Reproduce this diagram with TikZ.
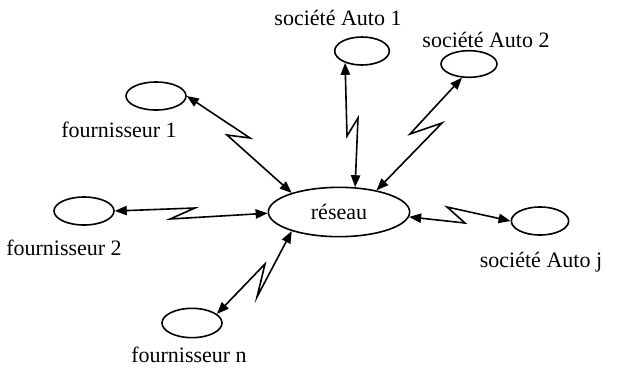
\documentclass[tikz,border=0pt]{standalone}
\usepackage{fontspec}
\setmainfont{Liberation Serif}
\usetikzlibrary{shapes.geometric,arrows.meta}

\begin{document}
\begin{tikzpicture}[x=0.75pt,y=-0.75pt,
  site/.style={draw,ellipse,line width=1.2pt,inner sep=0pt,minimum width=45pt,minimum height=21pt},
  lbl/.style={font=\fontsize{16.5}{19}\selectfont},
  bolt/.style={{Triangle[length=9pt,width=7pt]}-{Triangle[length=9pt,width=7pt]},line width=1.2pt}]
\useasboundingbox (0,0) rectangle (622,372);
% le reseau au centre
\node[site,minimum width=106pt,minimum height=37pt,lbl] (res) at (339,212) {réseau};
% fournisseurs
\node[site] (f1) at (156,96) {};
\node[site] (f2) at (84,211) {};
\node[site,minimum height=22pt] (fn) at (192,323) {};
% societes
\node[site,minimum width=41pt] (a1) at (362,51) {};
\node[site,minimum width=42pt,minimum height=20pt] (a2) at (469,64) {};
\node[site,minimum width=43pt] (aj) at (540,221) {};
% textes
\node[lbl] (tf1) at (119,130) {fournisseur 1};
\node[lbl] (tf2) at (64,248) {fournisseur 2};
\node[lbl] (tfn) at (189,355) {fournisseur n};
\node[lbl] (ta1) at (338,18) {société Auto 1};
\node[lbl] (ta2) at (486,40) {société Auto 2};
\node[lbl] (taj) at (541,262) {société Auto j};
% liaisons en eclair
\foreach \s/\p/\ax/\ay/\bx/\by/\r in {f1/0/250/138/227/135/158, a1/215/347/136/358/118/57,
    a2/243/410/134/442/123/30, f2/0/195/208/170/219/181, fn/20/265/264/257/297/202,
    aj/180/447/207/465/223/356}
  \draw[bolt] (\s.\p) -- (\ax,\ay) -- (\bx,\by) -- (res.\r);
\end{tikzpicture}
\end{document}
